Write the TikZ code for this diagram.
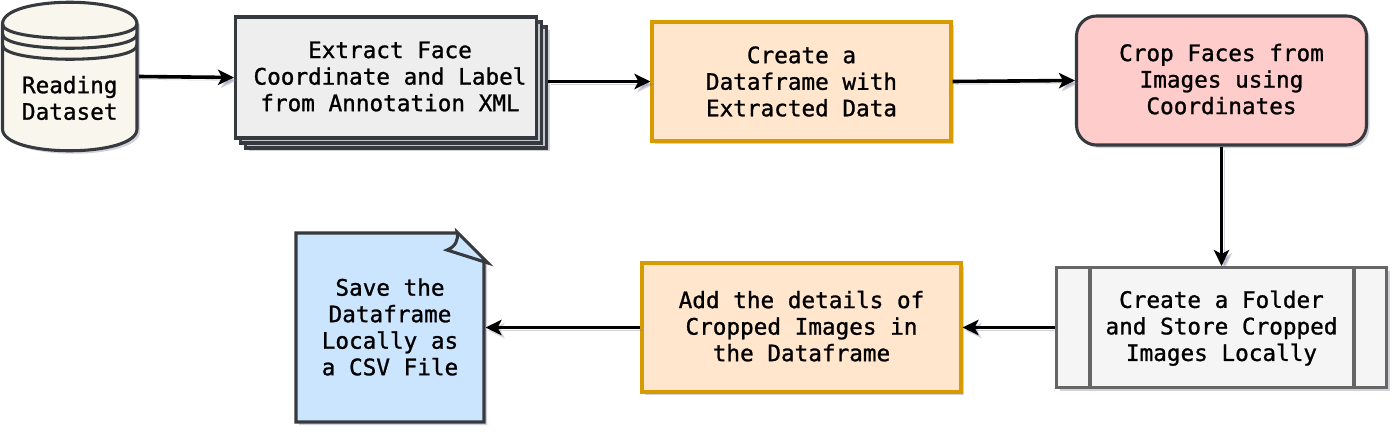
\documentclass[tikz,border=0pt]{standalone}
\usepackage{fontspec}
\setmonofont[FakeBold=1.1]{DejaVu Sans Mono}
\usetikzlibrary{arrows.meta,shadows}
\definecolor{darkstroke}{HTML}{36393D}
\definecolor{creamfill}{HTML}{F9F7ED}
\definecolor{sheetfill}{HTML}{EEEEEE}
\definecolor{orangefill}{HTML}{FFE6CC}
\definecolor{orangestroke}{HTML}{D79B00}
\definecolor{pinkfill}{HTML}{FFCCCC}
\definecolor{folderfill}{HTML}{F5F5F5}
\definecolor{folderstroke}{HTML}{666666}
\definecolor{notefill}{HTML}{CCE5FF}
\definecolor{shadowblue}{HTML}{6A6A90}
\newcommand{\capdrop}[1]{\rule[-#1]{0pt}{#1}}
\tikzset{
    softshadow/.style={drop shadow={shadow xshift=2.25pt,shadow yshift=-2.25pt,opacity=.3,fill=shadowblue}},
    caption/.style={font=\ttfamily\fontsize{17}{19.9}\selectfont,align=center,text=black,inner sep=0pt,line width=2.3pt},
    outline/.style={draw=darkstroke,line width=2.3pt,softshadow},
    sheet/.style={outline,fill=sheetfill,minimum width=225.75pt,minimum height=90.75pt},
    orangebox/.style={draw=orangestroke,fill=orangefill,line width=2.3pt,softshadow},
    flow/.style={draw=black,line width=2.7pt,-{Stealth[length=12pt,width=11.5pt,inset=3pt]},
        preaction={draw=shadowblue,opacity=.3,transform canvas={shift={(2.25pt,-2.25pt)}}}}
}
\begin{document}
\begin{tikzpicture}[x=.75pt,y=-.75pt]
    \useasboundingbox (0,0) rectangle (1400,435);

    % Cilindro do dataset
    \draw[outline,fill=creamfill] (2.5,24) .. controls (2.5,-5) and (137,-5) .. (137,24)
        -- (137,129) .. controls (137,158) and (2.5,158) .. (2.5,129) -- cycle;
    \draw[darkstroke,line width=2.3pt] (2.5,24) .. controls (2.5,43) and (137,43) .. (137,24);
    \draw[darkstroke,line width=2.3pt] (2.5,34) .. controls (2.5,53) and (137,53) .. (137,34);
    \draw[darkstroke,line width=2.3pt] (2.5,45) .. controls (2.5,64) and (137,64) .. (137,45);
    \node[caption,minimum width=101.25pt,minimum height=111.75pt] (dataset) at (69.75,76.5) {};
    \node[caption] (datasetlabel) at (69.75,98) {Reading\\Dataset};

    % Folhas empilhadas
    \node[sheet] (sheetback) at (396,87.5) {};
    \node[sheet] (sheetmid) at (391,82.5) {};
    \node[sheet,caption] (extract) at (386,77.5) {};
    \node[caption] (extractlabel) at (390,76.5) {Extract Face\\Coordinate and Label\\from Annotation XML};

    % Caixas da primeira linha
    \node[orangebox,caption,minimum width=224.25pt,minimum height=89.25pt] (dataframe) at (801.5,81.5) {Create a\\Dataframe with\\Extracted Data};
    \node[outline,caption,fill=pinkfill,rounded corners=15pt,minimum width=217.5pt,minimum height=96.75pt] (crop) at (1221.5,80.5) {Crop Faces from\\Images using\\Coordinates\capdrop{2.3pt}};

    % Processo predefinido
    \node[caption,draw=folderstroke,fill=folderfill,softshadow,minimum width=247.5pt,minimum height=90pt] (folder) at (1221.5,327.5) {\rule{0pt}{14pt}Create a Folder\\and Store Cropped\\Images Locally};
    \draw[folderstroke,line width=2.3pt] (1090,267.5) -- (1090,387.5);
    \draw[folderstroke,line width=2.3pt] (1354,267.5) -- (1354,387.5);

    % Segunda linha
    \node[orangebox,caption,minimum width=239.25pt,minimum height=96.75pt] (details) at (801.5,327.5) {Add the details of\\Cropped Images in\\the Dataframe\capdrop{2.3pt}};

    % Nota com canto dobrado
    \draw[outline,fill=notefill] (296,233) -- (457,233) -- (484,261) -- (484,422) -- (296,422) -- cycle;
    \draw[darkstroke,fill=notefill,line width=2.3pt] (457,232) -- (488,263) -- (447,250) .. controls (455,247) and (459,240) .. (457,232) -- cycle;
    \node[caption,minimum width=141pt,minimum height=141.75pt] (note) at (390,327.5) {Save the\\Dataframe\\Locally as\\a CSV File\capdrop{1pt}};

    % Setas
    \draw[flow] (dataset.east) -- (extract.west);
    \draw[flow] (sheetback.east |- dataframe.west) -- (dataframe.west);
    \draw[flow] (dataframe.east) -- (crop.west);
    \draw[flow] (crop.south) -- (folder.north);
    \draw[flow] (folder.west) -- (details.east);
    \draw[flow] (details.west) -- (note.east);
\end{tikzpicture}
\end{document}
